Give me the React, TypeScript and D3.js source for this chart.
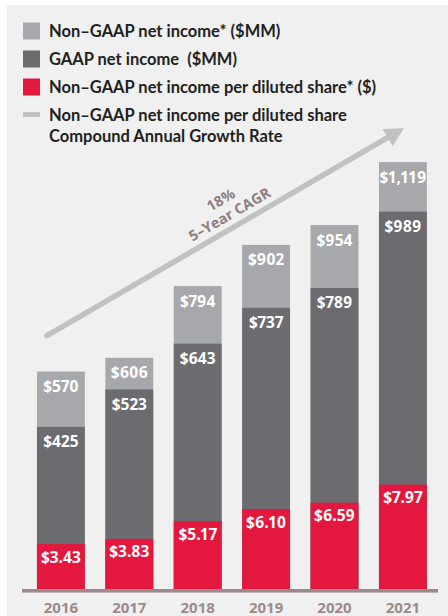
import React from "react";
import * as d3 from "d3";

const years = ["2016", "2017", "2018", "2019", "2020", "2021"];
const nonGaapIncome = [570, 606, 794, 902, 954, 1119];
const gaapIncome = [425, 523, 643, 737, 789, 989];
const nonGaapEps = [3.43, 3.83, 5.17, 6.1, 6.59, 7.97];
const incomeLabels = ["$570", "$606", "$794", "$902", "$954", "$1,119"];
const gaapLabels = ["$425", "$523", "$643", "$737", "$789", "$989"];
const epsLabels = ["$3.43", "$3.83", "$5.17", "$6.10", "$6.59", "$7.97"];
const legendItems = [
  { lines: ["Non–GAAP net income* ($MM)"], kind: "box", color: "#a7a8ab" },
  { lines: ["GAAP net income  ($MM)"], kind: "box", color: "#6b6b70" },
  { lines: ["Non–GAAP net income per diluted share* ($)"], kind: "box", color: "#e4183f" },
  { lines: ["Non–GAAP net income per diluted share", "Compound Annual Growth Rate"], kind: "line", color: "#c0c1c3" },
];
const cagrLines = ["18%", "5–Year CAGR"];

const W = 448;
const H = 616;
const FONT = "Lato, 'Open Sans', sans-serif";
const LABEL_FONT = "'Open Sans', Lato, sans-serif";

export default function App() {
  const x = d3.scaleBand<string>().domain(years).range([26.7, 437.1]).paddingInner(0.3).paddingOuter(0.15);
  const baseY = 589;
  const yInc = d3.scaleLinear().domain([0, 1000]).range([baseY, baseY - 381.5]);
  const yEps = d3.scaleLinear().domain([0, 10]).range([baseY, baseY - 131]);
  const bw = x.bandwidth();

  // arrow defined in data space
  const ax0 = (x("2016") as number) + 10;
  const ay0 = yInc(664);
  const ax1 = (x("2021") as number) + 25;
  const ay1 = yInc(1208);
  const angle = (Math.atan2(ay1 - ay0, ax1 - ax0) * 180) / Math.PI;
  const headLen = 19;
  const headHalf = 10;
  const len = Math.hypot(ax1 - ax0, ay1 - ay0);
  const ux = (ax1 - ax0) / len;
  const uy = (ay1 - ay0) / len;
  const bx = ax1 - ux * headLen;
  const by = ay1 - uy * headLen;
  const head = `M${ax1},${ay1}L${bx - uy * headHalf},${by + ux * headHalf}L${bx + uy * headHalf},${by - ux * headHalf}Z`;

  const cx = ax0 + (ax1 - ax0) * 0.53;
  const cy = ay0 + (ay1 - ay0) * 0.53;

  const labelStyle: React.CSSProperties = { fontVariantNumeric: "proportional-nums" };

  return (
    <svg width={W} height={H} style={{ position: "absolute", left: 0, top: 0, display: "block" }} fontFamily={FONT}>
      <rect x={7} y={5} width={W - 7} height={H - 5} fill="#eff0ef" />
      {/* legend */}
      {legendItems.map((it, i) => {
        const cyL = 31 + i * 28;
        return (
          <g key={i}>
            {it.kind === "box" ? (
              <rect x={23} y={cyL - 8.5} width={17} height={17} fill={it.color} />
            ) : (
              <rect x={23} y={cyL - 3} width={17} height={5} fill={it.color} />
            )}
            {it.lines.map((t, j) => (
              <text key={j} x={49} y={cyL + 6 + j * 21} fontSize={16.5} fontWeight={700} fill="#231f20" style={{ whiteSpace: "pre" }}>
                {t}
              </text>
            ))}
          </g>
        );
      })}
      {/* arrow */}
      <line x1={ax0} y1={ay0} x2={bx + ux * 2} y2={by + uy * 2} stroke="#c0c1c3" strokeWidth={5.5} strokeLinecap="round" />
      <path d={head} fill="#c0c1c3" />
      <g transform={`translate(${cx},${cy}) rotate(${angle})`}>
        {cagrLines.map((t, j) => (
          <text key={j} x={0} y={-25 + j * 17} textAnchor="middle" fontSize={14.5} fontWeight={700} fill="#8f7d80" fontFamily={LABEL_FONT} style={labelStyle}>
            {t}
          </text>
        ))}
      </g>
      {/* bars */}
      {years.map((yr, i) => {
        const x0 = x(yr) as number;
        const mid = x0 + bw / 2;
        return (
          <g key={yr}>
            <rect x={x0} y={yInc(nonGaapIncome[i])} width={bw} height={baseY - yInc(nonGaapIncome[i])} fill="#a7a8ab" />
            <rect x={x0} y={yInc(gaapIncome[i])} width={bw} height={baseY - yInc(gaapIncome[i])} fill="#6b6b70" />
            <rect x={x0} y={yEps(nonGaapEps[i])} width={bw} height={baseY - yEps(nonGaapEps[i])} fill="#e4183f" />
            <g fontFamily={LABEL_FONT} fontSize={15.5} fontWeight={700} fill="#ffffff" textAnchor="middle" style={labelStyle}>
              <text x={mid} y={yInc(nonGaapIncome[i]) + 20.5}>{incomeLabels[i]}</text>
              <text x={mid} y={yInc(gaapIncome[i]) + 20.5}>{gaapLabels[i]}</text>
              <text x={mid} y={yEps(nonGaapEps[i]) + 18.5}>{epsLabels[i]}</text>
            </g>
            <text x={mid} y={612.5} textAnchor="middle" fontSize={15} fontWeight={700} fill="#9c8b8d" fontFamily={LABEL_FONT}>
              {yr}
            </text>
          </g>
        );
      })}
      <rect x={22} y={baseY} width={416} height={3.6} fill="#9a8a8b" />
    </svg>
  );
}
